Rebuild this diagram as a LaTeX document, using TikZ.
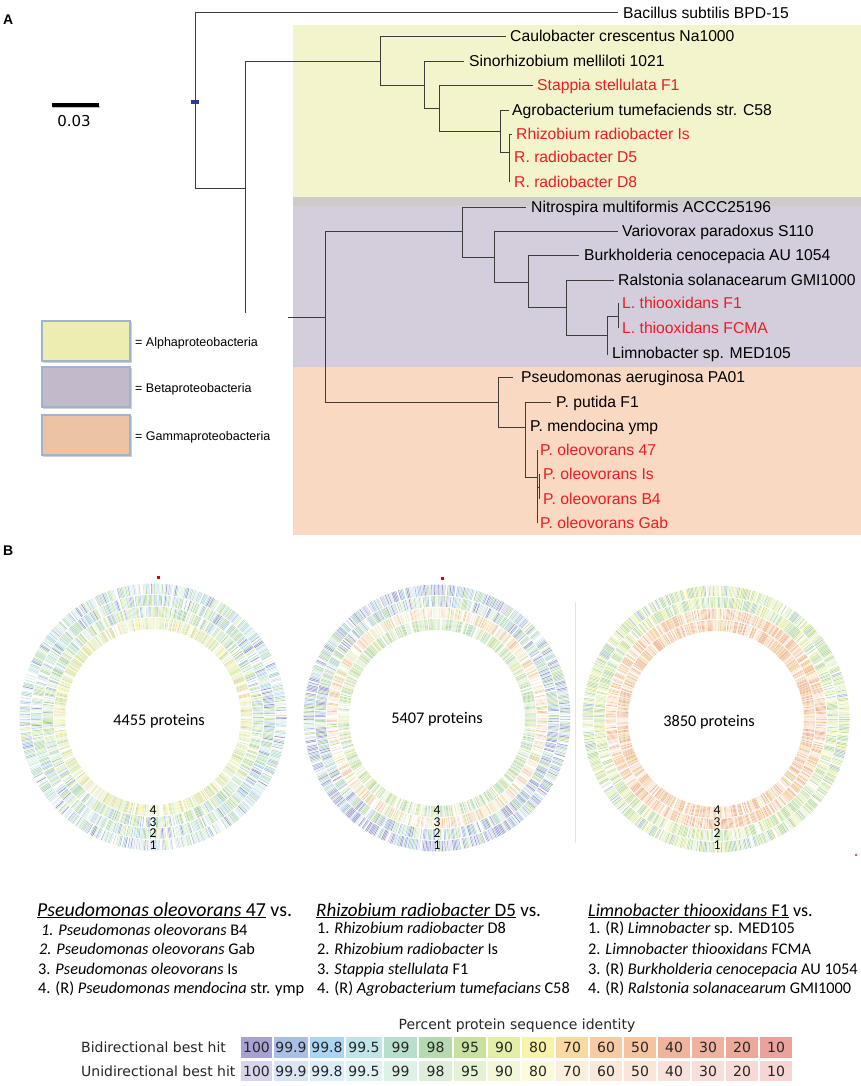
\documentclass[tikz,border=0pt]{standalone}
\usepackage{fontspec}
\setmainfont{Liberation Sans}
\newfontfamily\carl{Carlito}
\newfontfamily\dvs{DejaVu Sans}
\usetikzlibrary{calc}
\definecolor{treeline}{HTML}{3C3C3C}
\definecolor{leafred}{HTML}{ED1C24}
\definecolor{bgyel}{HTML}{F3F4CC}
\definecolor{bgstrip}{HTML}{D0CBCB}
\definecolor{bgpur}{HTML}{D4CDDC}
\definecolor{bgora}{HTML}{FAD9C3}
\definecolor{lgy}{HTML}{EDEDB1}
\definecolor{lgp}{HTML}{C2B9CB}
\definecolor{lgo}{HTML}{ECC4A4}
\definecolor{lgborder}{HTML}{9FB3CF}
\definecolor{markblue}{HTML}{2E3D94}
\definecolor{divgray}{HTML}{E4E4E4}
\definecolor{b1}{HTML}{A6A2D2}\definecolor{b2}{HTML}{A9C0E4}\definecolor{b3}{HTML}{ABD5F1}\definecolor{b4}{HTML}{BFE4EA}
\definecolor{b5}{HTML}{B7DFCB}\definecolor{b6}{HTML}{B6DAB0}\definecolor{b7}{HTML}{C8E1A0}\definecolor{b8}{HTML}{E2EEA9}
\definecolor{b9}{HTML}{F8F3A8}\definecolor{b10}{HTML}{F8D9A4}\definecolor{b11}{HTML}{F6CAA4}\definecolor{b12}{HTML}{F4C4A1}
\definecolor{b13}{HTML}{EFB49D}\definecolor{b14}{HTML}{EDB39F}\definecolor{b15}{HTML}{EBA99C}\definecolor{b16}{HTML}{E9A39C}
\definecolor{u1}{HTML}{D8D4EB}\definecolor{u2}{HTML}{D9E4F4}\definecolor{u3}{HTML}{DAEDF9}\definecolor{u4}{HTML}{E0F2F4}
\definecolor{u5}{HTML}{DEF1E7}\definecolor{u6}{HTML}{DEEEDB}\definecolor{u7}{HTML}{E6F2D5}\definecolor{u8}{HTML}{F1F7D7}
\definecolor{u9}{HTML}{FCFAD8}\definecolor{u10}{HTML}{FCEFDB}\definecolor{u11}{HTML}{FCE8DB}\definecolor{u12}{HTML}{FBE5D9}
\definecolor{u13}{HTML}{F9E0D9}\definecolor{u14}{HTML}{F8DDD8}\definecolor{u15}{HTML}{F7D9D6}\definecolor{u16}{HTML}{F6D5D2}
\definecolor{tb}{HTML}{9A98CC}\definecolor{tg}{HTML}{A6CF98}\definecolor{tgg}{HTML}{BCDA86}\definecolor{to}{HTML}{F2B88C}\definecolor{tr}{HTML}{EEA898}
\tikzset{
  branch/.style={draw=treeline, line width=0.9pt},
  leaf/.style={anchor=base west, inner sep=0pt, font=\fontsize{15.7}{18}\selectfont, text=black},
  redleaf/.style={leaf, text=leafred},
  legbox/.style={draw=lgborder, line width=1.1pt, minimum width=88pt, minimum height=40pt, inner sep=0pt},
  legtext/.style={anchor=base west, inner sep=0pt, font=\fontsize{12.5}{14}\selectfont},
  panel/.style={anchor=base west, inner sep=0pt, font=\bfseries\fontsize{14}{16}\selectfont},
  ringnum/.style={inner sep=0pt, font=\carl\fontsize{13.5}{14}\selectfont, anchor=center},
  protlabel/.style={inner sep=0pt, font=\carl\fontsize{16.3}{18}\selectfont, anchor=base},
  headtxt/.style={anchor=base west, inner sep=0pt, font=\carl\fontsize{19}{21}\selectfont},
  itemtxt/.style={anchor=base west, inner sep=0pt, font=\carl\fontsize{16.3}{18}\selectfont},
  cell/.style={inner sep=0pt, minimum height=21pt, font=\dvs\fontsize{14}{16}\selectfont, text=black!85},
  scaletxt/.style={anchor=base west, inner sep=0pt, font=\dvs\fontsize{14}{16}\selectfont, text=black!85},
}
\newcommand\leaflabel[5]{\node[#1] (#2) at (#3,#4+5.4) {#5};}
\newcommand\ringticks[4]{%
  \begin{scope}[shift={(#1)}]
  \foreach \a in {0,0.6,...,359.7}{%
    \pgfmathrandomitem{\rc}{#4}%
    \draw[draw=\rc, line width=0.75pt] (\a:#2) -- (\a:#3);
  }
  \end{scope}}
\pgfmathdeclarerandomlist{cAa}{{b4}{b5}{b6}{u4}{u5}{u2}{u3}{b2}{tb}{u1}{u7}{b6}{white}{u6}{b3}{u4}{b5}{white}{b8}}
\pgfmathdeclarerandomlist{cAb}{{b4}{b5}{b6}{u4}{u5}{u6}{u2}{b2}{tb}{b7}{u7}{b6}{white}{b3}{u5}{b8}{white}}
\pgfmathdeclarerandomlist{cAc}{{b5}{b6}{b7}{u5}{u6}{u7}{b2}{u2}{b8}{u8}{tg}{white}{b4}{u6}{b7}{white}}
\pgfmathdeclarerandomlist{cAd}{{u7}{u8}{b8}{u9}{u6}{b7}{white}{u10}{b8}{b9}{u8}{u7}{b7}{white}{b10}}
\pgfmathdeclarerandomlist{cBa}{{b1}{b2}{b3}{u1}{u2}{tb}{b6}{u6}{b5}{white}{b2}{u3}{b7}{b1}{u2}}
\pgfmathdeclarerandomlist{cBb}{{b1}{b2}{b3}{u2}{u4}{tb}{b6}{u6}{b5}{white}{b7}{b6}{u1}{b2}{u7}}
\pgfmathdeclarerandomlist{cBc}{{u10}{u11}{u12}{b11}{u9}{white}{u8}{b7}{b12}{u13}{white}{b10}{u7}{u11}{white}}
\pgfmathdeclarerandomlist{cBd}{{b6}{b7}{u6}{u7}{b8}{u8}{white}{b5}{b7}{u5}{u10}{b6}{u7}{white}}
\pgfmathdeclarerandomlist{cCa}{{b7}{b8}{u7}{b6}{u8}{b9}{white}{tgg}{b7}{b2}{u6}{b8}{u7}{b6}}
\pgfmathdeclarerandomlist{cCb}{{b7}{b8}{u7}{b6}{u8}{b9}{white}{b7}{b6}{u9}{b5}{b8}{u7}}
\pgfmathdeclarerandomlist{cCc}{{b10}{b11}{b12}{u11}{u10}{b9}{white}{to}{b13}{u12}{b12}{u11}{b11}{u13}}
\pgfmathdeclarerandomlist{cCd}{{b11}{b12}{b13}{u12}{b10}{white}{to}{u11}{b14}{b8}{u12}{b12}{u10}}
\begin{document}
\begin{tikzpicture}[x=1pt,y=-1pt]
\useasboundingbox (0,0) rectangle (861,1086);
\fill[white] (0,0) rectangle (861,1086);
\pgfmathsetseed{4711}
% ---------- panel A backgrounds
\fill[bgyel] (293,25) rectangle (861,197);
\fill[bgstrip] (293,197) rectangle (861,206);
\fill[bgpur] (293,206) rectangle (861,367);
\fill[bgora] (293,367) rectangle (861,535);
\node[panel] (pA) at (3,25) {A};
% scale bar
\coordinate (sb1) at (52,105);
\coordinate (sb2) at (99,105);
\draw[black!25, line width=2pt] ($(sb1)+(1,2.2)$) -- ($(sb2)+(1,2.2)$);
\draw[black, line width=3.3pt] (sb1) -- (sb2);
\node[anchor=base, inner sep=0pt, font=\dvs\fontsize{15}{17}\selectfont] (sbl) at (74,127) {0.03};
% ---------- tree coordinates
\coordinate (R) at (195,102);
\coordinate (tBac) at (618,12.7);
\coordinate (N1) at (245,188);
\coordinate (N1end) at (245,313);
\coordinate (PBGs) at (288,317);
\coordinate (PBG) at (325,317);
\coordinate (Aa) at (380,61);
\coordinate (A2) at (424,85);
\coordinate (A3) at (439,108);
\coordinate (A4) at (500,131);
\coordinate (A5) at (509,152);
\coordinate (tCau) at (506,36);
\coordinate (tSin) at (464,61);
\coordinate (tSta) at (533,85);
\coordinate (tAgr) at (509,110);
\coordinate (tRIs) at (512,134);
\coordinate (tD5) at (509,157);
\coordinate (tD8) at (509,182);
\coordinate (Bb) at (462,231);
\coordinate (B2) at (494,257);
\coordinate (B3) at (528,282);
\coordinate (B4) at (566,307);
\coordinate (B5) at (607,335);
\coordinate (B6) at (618,316);
\coordinate (tNit) at (526,207);
\coordinate (tVar) at (618,231);
\coordinate (tBur) at (579,255);
\coordinate (tRal) at (614,280);
\coordinate (tLF1) at (618,303);
\coordinate (tLFC) at (618,328);
\coordinate (tLim) at (607,355);
\coordinate (Gg) at (498,402);
\coordinate (G2) at (525,427);
\coordinate (G3) at (537,477);
\coordinate (G4) at (539,487);
\coordinate (tAer) at (513,377);
\coordinate (tPut) at (551,402);
\coordinate (tMen) at (525,426);
\coordinate (tO47) at (537,450);
\coordinate (tOIs) at (539,474);
\coordinate (tOB4) at (539,499);
\coordinate (tOGa) at (537,523);
% ---------- branches
\draw[branch] (R) |- (tBac);
\draw[branch] (R) |- (N1);
\draw[branch] (N1) |- (Aa);
\draw[branch] (N1) -- (N1end);
\draw[branch] (PBGs) -- (PBG);
\draw[branch] (Aa) |- (tCau);
\draw[branch] (Aa) |- (A2);
\draw[branch] (A2) |- (tSin);
\draw[branch] (A2) |- (A3);
\draw[branch] (A3) |- (tSta);
\draw[branch] (A3) |- (A4);
\draw[branch] (A4) |- (tAgr);
\draw[branch] (A4) |- (A5);
\draw[branch] (A5) |- (tRIs);
\draw[branch] (A5) |- (tD5);
\draw[branch] (A5) |- (tD8);
\draw[branch] (PBG) |- (Bb);
\draw[branch] (PBG) |- (Gg);
\draw[branch] (Bb) |- (tNit);
\draw[branch] (Bb) |- (B2);
\draw[branch] (B2) |- (tVar);
\draw[branch] (B2) |- (B3);
\draw[branch] (B3) |- (tBur);
\draw[branch] (B3) |- (B4);
\draw[branch] (B4) |- (tRal);
\draw[branch] (B4) |- (B5);
\draw[branch] (B5) |- (B6);
\draw[branch] (B5) |- (tLim);
\draw[branch] (B6) |- (tLF1);
\draw[branch] (B6) |- (tLFC);
\draw[branch] (Gg) |- (tAer);
\draw[branch] (Gg) |- (G2);
\draw[branch] (G2) |- (tPut);
\draw[branch] (G2) |- (tMen);
\draw[branch] (G2) |- (G3);
\draw[branch] (G3) |- (tO47);
\draw[branch] (G3) |- (G4);
\draw[branch] (G3) |- (tOGa);
\draw[branch] (G4) |- (tOIs);
\draw[branch] (G4) |- (tOB4);
\fill[markblue] ($(R)+(-4,-2.2)$) rectangle ($(R)+(4,2.2)$);
% ---------- leaf labels
\leaflabel{leaf}{lBac}{623}{12.7}{Bacillus subtilis BPD-15}
\leaflabel{leaf}{lCau}{510}{36}{Caulobacter crescentus Na1000}
\leaflabel{leaf}{lSin}{469}{61}{Sinorhizobium melliloti 1021}
\leaflabel{redleaf}{lSta}{537}{85}{Stappia stellulata F1}
\leaflabel{leaf}{lAgr}{512}{110}{Agrobacterium tumefaciends str. C58}
\leaflabel{redleaf}{lRIs}{516}{134}{Rhizobium radiobacter Is}
\leaflabel{redleaf}{lD5}{514}{157}{R. radiobacter D5}
\leaflabel{redleaf}{lD8}{514}{182}{R. radiobacter D8}
\leaflabel{leaf}{lNit}{531}{207}{Nitrospira multiformis ACCC25196}
\leaflabel{leaf}{lVar}{622}{231}{Variovorax paradoxus S110}
\leaflabel{leaf}{lBur}{584}{255}{Burkholderia cenocepacia AU 1054}
\leaflabel{leaf}{lRal}{618}{280}{Ralstonia solanacearum GMI1000}
\leaflabel{redleaf}{lLF1}{622}{303}{L. thiooxidans F1}
\leaflabel{redleaf}{lLFC}{622}{328}{L. thiooxidans FCMA}
\leaflabel{leaf}{lLim}{612}{353}{Limnobacter sp. MED105}
\leaflabel{leaf}{lAer}{521}{377}{Pseudomonas aeruginosa PA01}
\leaflabel{leaf}{lPut}{556}{402}{P. putida F1}
\leaflabel{leaf}{lMen}{530}{426}{P. mendocina ymp}
\leaflabel{redleaf}{lO47}{540}{450}{P. oleovorans 47}
\leaflabel{redleaf}{lOIs}{543}{474}{P. oleovorans Is}
\leaflabel{redleaf}{lOB4}{543}{499}{P. oleovorans B4}
\leaflabel{redleaf}{lOGa}{540}{523}{P. oleovorans Gab}
% ---------- legend
\foreach \yy/\cc/\nm in {341/lgy/lg1, 387/lgp/lg2, 435/lgo/lg3}{
  \fill[black!18] (43,\yy-19) rectangle (132,\yy+22);
  \node[legbox, fill=\cc] (\nm) at (86,\yy) {};
}
\node[legtext] (lt1) at (135,346.3) {= Alphaproteobacteria};
\node[legtext] (lt2) at (135,392) {= Betaproteobacteria};
\node[legtext] (lt3) at (135,440.5) {= Gammaproteobacteria};
% ---------- panel B
\node[panel] (pB) at (3,555) {B};
\coordinate (c1) at (153,717);
\coordinate (c2) at (437,718);
\coordinate (c3) at (716,719);
\ringticks{c1}{123}{133.5}{cAa}
\ringticks{c1}{111.5}{122}{cAb}
\ringticks{c1}{100}{110.5}{cAc}
\ringticks{c1}{88}{99}{cAd}
\ringticks{c2}{123}{133.5}{cBa}
\ringticks{c2}{111.5}{122}{cBb}
\ringticks{c2}{100}{110.5}{cBc}
\ringticks{c2}{88}{99}{cBd}
\ringticks{c3}{123}{133.5}{cCa}
\ringticks{c3}{111.5}{122}{cCb}
\ringticks{c3}{100}{110.5}{cCc}
\ringticks{c3}{88}{99}{cCd}
\fill[red!85!black] (156.5,575.5) rectangle (159.5,578.5);
\fill[red!85!black] (440.5,576.5) rectangle (443.5,579.5);
\fill[red!70] (855,854) rectangle (857,856);
\draw[divgray, line width=0.8pt] (575,602) -- (575,843);
\foreach \cx/\cn in {153/c1, 437/c2, 717/c3}{
  \node[ringnum] (\cn n4) at (\cx,810) {4};
  \node[ringnum] (\cn n3) at (\cx,822) {3};
  \node[ringnum] (\cn n2) at (\cx,833.5) {2};
  \node[ringnum] (\cn n1) at (\cx,845) {1};
}
\node[protlabel] (p1) at (159,725.5) {4455 proteins};
\node[protlabel] (p2) at (437,723.5) {5407 proteins};
\node[protlabel] (p3) at (709,726.5) {3850 proteins};
% ---------- lists
\node[headtxt, font=\carl\fontsize{19.8}{21}\selectfont] (h1) at (37,916) {\underline{\itshape Pseudomonas oleovorans\/ \upshape 47} vs.};
\node[itemtxt] (i11) at (41,935) {\itshape 1. Pseudomonas oleovorans\/ \upshape B4};
\node[itemtxt] (i12) at (39,954.5) {\itshape 2. Pseudomonas oleovorans\/ \upshape Gab};
\node[itemtxt] (i13) at (38,974) {3. \textit{Pseudomonas oleovorans} Is};
\node[itemtxt] (i14) at (38,993) {4. (R) \textit{Pseudomonas mendocina} str. ymp};
\node[headtxt] (h2) at (316,916) {\underline{\itshape Rhizobium radiobacter\/ \upshape D5} vs.};
\node[itemtxt] (i21) at (317,933) {1. \textit{Rhizobium radiobacter} D8};
\node[itemtxt] (i22) at (317,954) {2. \textit{Rhizobium radiobacter} Is};
\node[itemtxt] (i23) at (317,974) {3. \textit{Stappia stellulata} F1};
\node[itemtxt] (i24) at (317,993) {4. (R) \textit{Agrobacterium tumefacians} C58};
\node[headtxt, font=\carl\fontsize{18}{20}\selectfont] (h3) at (588,916) {\underline{\itshape Limnobacter thiooxidans\/ \upshape F1} vs.};
\node[itemtxt] (i31) at (588,933) {1. (R) \textit{Limnobacter} sp. MED105};
\node[itemtxt] (i32) at (588,954) {2. \textit{Limnobacter thiooxidans} FCMA};
\node[itemtxt] (i33) at (588,974) {3. (R) \textit{Burkholderia cenocepacia} AU 1054};
\node[itemtxt] (i34) at (588,993) {4. (R) \textit{Ralstonia solanacearum} GMI1000};
% ---------- colour scale
\node[anchor=base, inner sep=0pt, font=\dvs\fontsize{14}{16}\selectfont, text=black!85] (ptitle) at (517,1029) {Percent protein sequence identity};
\node[scaletxt] (rb) at (81,1052.5) {Bidirectional best hit};
\node[scaletxt] (ru) at (81,1076) {Unidirectional best hit};
\foreach \l/\w/\lab [count=\i] in {241/31/100, 274/34/99.9, 310/34/99.8, 346/36/99.5, 384/33/99, 419/33/98, 454/32/95, 488/32/90, 522/32/80, 556/32/70, 590/32/60, 624/32/50, 658/32/40, 692/32/30, 726/32/20, 760/32/10}{
  \node[cell, fill=b\i, minimum width=\w pt] (bc\i) at (\l+\w/2,1047.5) {\lab};
  \node[cell, fill=u\i, minimum width=\w pt, minimum height=20pt] (uc\i) at (\l+\w/2,1071) {\lab};
}
\end{tikzpicture}
\end{document}
